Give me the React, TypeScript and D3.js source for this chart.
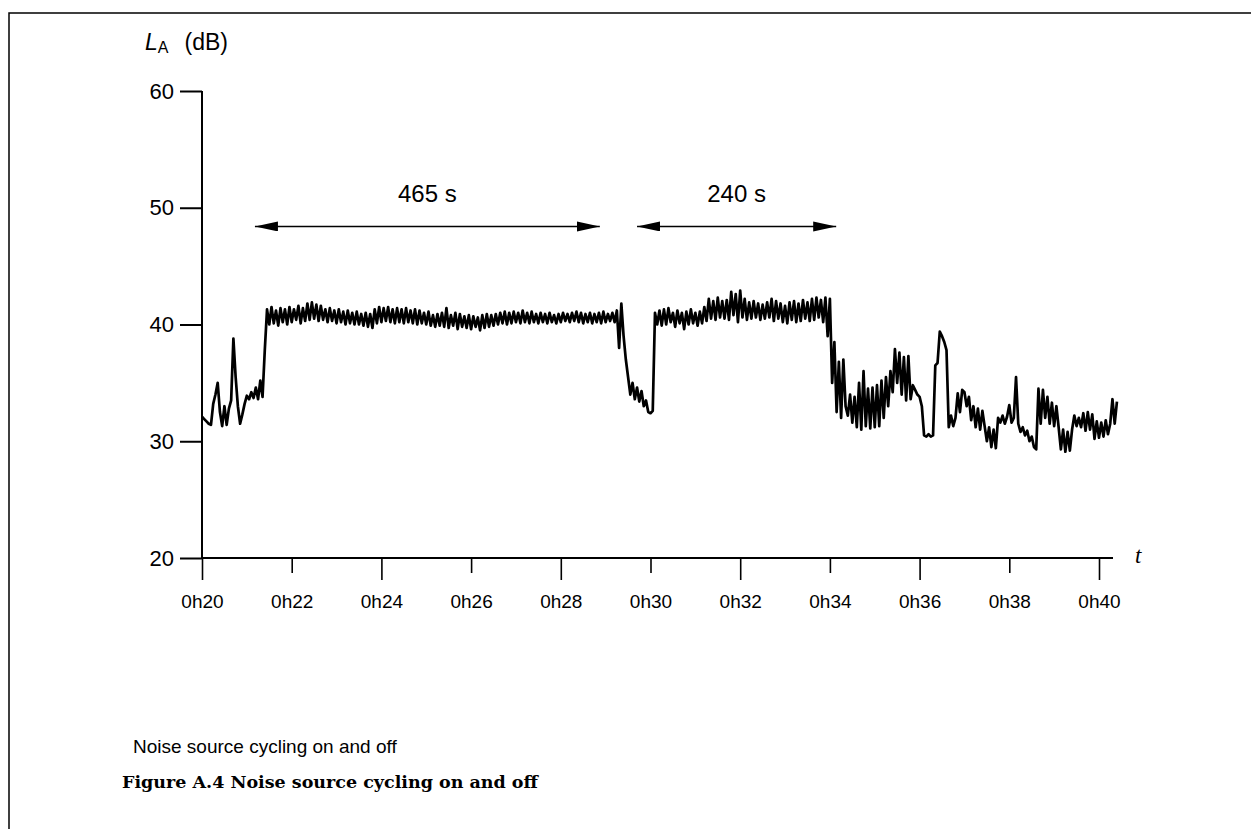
import React, { useEffect, useRef } from 'react';
import * as d3 from 'd3';

// sound level samples (dB), one every 3 s starting at 0h20
const T0 = 20;
const STEP = 0.05; // minutes

const startup = [
  32.1, 31.9, 31.7, 31.5, 31.4, 33.2, 34.0, 35.0, 32.5, 31.3,
  33.0, 31.4, 32.8, 33.5, 38.8, 35.5, 33.0, 31.5, 32.3, 33.2,
  33.9, 33.6, 34.2, 33.7, 34.6, 33.6, 35.2, 33.8, 37.8,
];

const firstOn = [
  41.3, 40.0, 41.5, 40.1, 41.2, 39.9, 41.4, 40.2, 41.3, 40.0,
  41.5, 40.2, 41.3, 40.4, 41.6, 40.1, 41.4, 40.3, 41.8, 40.4,
  41.9, 40.5, 41.7, 40.3, 41.6, 40.4, 41.3, 40.2, 41.4, 40.3,
  41.2, 40.1, 41.3, 40.2, 41.1, 40.0, 41.2, 40.1, 41.0, 40.0,
  41.1, 40.0, 40.9, 39.9, 41.0, 39.8, 40.9, 39.7, 41.3, 40.1,
  41.5, 40.2, 41.4, 40.3, 41.5, 40.2, 41.3, 40.1, 41.4, 40.2,
  41.3, 40.1, 41.4, 40.2, 41.2, 40.1, 41.3, 40.0, 41.2, 40.1,
  41.0, 40.0, 41.1, 39.9, 40.8, 39.8, 40.9, 39.9, 41.0, 39.8,
  41.4, 39.7, 40.8, 39.9, 41.0, 39.6, 40.9, 39.8, 40.7, 39.7,
  40.8, 39.6, 40.7, 39.8, 40.6, 39.5, 40.8, 39.7, 40.9, 39.8,
  40.8, 39.9, 40.9, 40.0, 41.0, 40.1, 41.1, 40.0, 41.0, 40.1,
  41.1, 40.2, 41.0, 40.1, 41.2, 40.2, 41.0, 40.1, 41.1, 40.2,
  40.9, 40.1, 41.0, 40.2, 40.9, 40.1, 41.0, 40.2, 40.8, 40.1,
  40.9, 40.2, 41.0, 40.3, 40.9, 40.2, 41.0, 40.3, 41.1, 40.2,
  41.0, 40.1, 40.9, 40.2, 41.0, 40.1, 40.9, 40.2, 41.0, 40.1,
  41.1, 40.2, 40.9, 40.3, 41.0, 40.2, 41.2,
];

const firstOff = [
  38.0, 41.8, 39.0, 37.0, 35.5, 34.0, 35.0, 33.6, 34.6, 33.4,
  34.3, 33.0, 33.5, 32.5, 32.4, 32.6,
];

const secondOn = [
  41.0,
  40.0, 41.2, 39.9, 41.3, 40.0, 41.4, 40.2, 41.0, 39.8, 41.2,
  40.1, 41.0, 39.6, 41.1, 40.0, 41.3, 40.1, 41.0, 39.9, 41.1,
  40.1, 41.5, 40.3, 42.2, 40.5, 42.0, 40.4, 42.3, 40.6, 42.0,
  40.5, 42.1, 40.4, 42.8, 40.8, 42.6, 40.2, 42.9, 40.6, 42.2,
  40.4, 41.9, 40.5, 42.0, 40.6, 41.8, 40.4, 41.7, 40.5, 41.9,
  40.6, 42.2, 40.3, 42.0, 40.5, 41.8, 40.2, 41.6, 40.1, 41.9,
  40.4, 42.0, 40.2, 41.8, 40.3, 42.1, 40.5, 41.9, 40.3, 42.2,
  40.4, 42.3, 40.6, 42.1, 40.2, 42.3, 39.0, 42.2,
];

const tail = [
  35.0, 38.5, 32.5, 36.8, 32.0, 37.0, 33.0, 32.2,
  34.0, 31.6, 33.8, 31.2, 35.0, 31.0, 36.0, 31.3, 34.5, 31.1, 34.6, 31.2, 34.8, 31.3, 35.2, 32.0,
  35.5, 33.0, 36.0, 34.2, 37.9, 35.0, 37.6,
  34.0, 37.2, 33.5, 37.3, 33.6, 34.8,
  34.4, 34.0, 33.8, 33.0,
  30.5, 30.4, 30.6, 30.4, 30.5,
  36.5, 36.7, 39.4, 39.0, 38.5, 37.8,
  31.2, 32.2, 31.3, 32.0,
  34.1, 32.5, 34.4, 34.2,
  33.0, 33.8, 31.8, 33.0, 31.2, 32.8, 31.0, 32.6, 31.3,
  30.0, 31.2, 29.5, 31.0, 29.4,
  32.0, 31.6, 32.2, 31.5, 32.1, 33.1, 31.6, 32.0,
  35.5, 31.5, 30.8, 31.2,
  30.5, 30.9, 30.0, 30.4, 29.5, 29.3,
  34.5, 31.5, 34.4, 32.0, 33.8,
  31.5, 33.3, 31.3, 33.0, 31.2,
  29.3, 31.0, 29.1, 30.8, 29.2, 31.0,
  32.2, 31.3, 32.0, 31.2, 32.4,
  30.9, 32.5, 31.0, 32.3,
  30.2, 31.7, 30.3, 31.6, 30.4, 31.8, 30.6, 31.5,
  33.6, 31.5, 33.4,
];

const yTicks = [20, 30, 40, 50, 60];
const xTicks = [20, 22, 24, 26, 28, 30, 32, 34, 36, 38, 40];
const xTickLabels = ['0h20', '0h22', '0h24', '0h26', '0h28', '0h30', '0h32', '0h34', '0h36', '0h38', '0h40'];

// duration annotations (minutes) at a fixed level
const spanStarts = [21.18, 29.7];
const spanEnds = [28.87, 34.14];
const spanLabels = ['465 s', '240 s'];
const spanLevel = 48.4;

const W = 1251;
const H = 829;
const sans = "'Liberation Sans', Arial, Helvetica, sans-serif";

export default function App() {
  const ref = useRef<SVGSVGElement>(null);

  useEffect(() => {
    if (!ref.current) return;
    const svg = d3.select(ref.current);
    svg.selectAll('*').remove();

    const x = d3.scaleLinear().domain([20, 40]).range([202, 1099]);
    const y = d3.scaleLinear().domain([20, 60]).range([558, 91]);

    // frame
    svg.append('path')
      .attr('d', `M9,${H} V13 H${W}`)
      .attr('fill', 'none')
      .attr('stroke', '#000')
      .attr('stroke-width', 1.5);

    const defs = svg.append('defs');
    defs.append('marker')
      .attr('id', 'head')
      .attr('markerUnits', 'userSpaceOnUse')
      .attr('markerWidth', 26)
      .attr('markerHeight', 12)
      .attr('refX', 23)
      .attr('refY', 5)
      .attr('orient', 'auto-start-reverse')
      .append('path')
      .attr('d', 'M0,0 L23,5 L0,10 Z')
      .attr('fill', '#000');

    // y axis
    const yAxis = svg.append('g')
      .attr('transform', `translate(${x(20)},0)`)
      .call(d3.axisLeft(y).tickValues(yTicks).tickSize(22).tickPadding(6).tickSizeOuter(0));
    yAxis.select('.domain').remove();
    yAxis.attr('font-family', sans).attr('font-size', 22);
    yAxis.selectAll('line').attr('stroke', '#000').attr('stroke-width', 2);
    yAxis.selectAll('text').attr('fill', '#000');

    svg.append('line')
      .attr('x1', x(20)).attr('x2', x(20))
      .attr('y1', y(60)).attr('y2', y(20))
      .attr('stroke', '#000').attr('stroke-width', 2);

    // x axis
    const xAxis = svg.append('g')
      .attr('transform', `translate(0,${y(20)})`)
      .call(d3.axisBottom(x).tickValues(xTicks).tickFormat((_, i) => xTickLabels[i]).tickSizeOuter(0));
    xAxis.select('.domain').remove();
    xAxis.attr('font-family', sans).attr('font-size', 19);
    xAxis.selectAll('line')
      .attr('stroke', '#000')
      .attr('stroke-width', 1.6)
      .attr('y2', (_, i) => (i % 2 === 0 ? 22 : 15));
    xAxis.selectAll('text').attr('fill', '#000').attr('y', 37);

    svg.append('line')
      .attr('x1', x(20)).attr('x2', x(40) + 14)
      .attr('y1', y(20)).attr('y2', y(20))
      .attr('stroke', '#000').attr('stroke-width', 2);

    // axis titles
    const yt = svg.append('text')
      .attr('x', 145).attr('y', 50)
      .attr('font-family', sans).attr('font-size', 23).attr('fill', '#000');
    yt.append('tspan').attr('font-style', 'italic').text('L');
    yt.append('tspan').attr('font-size', 16).attr('dy', 3).text('A');
    yt.append('tspan').attr('dy', -3).attr('dx', 16).text('(dB)');

    svg.append('text')
      .attr('x', x(40) + 36).attr('y', y(20) + 5)
      .attr('font-family', "'Liberation Serif', 'Times New Roman', serif")
      .attr('font-style', 'italic')
      .attr('font-size', 23)
      .attr('fill', '#000')
      .text('t');

    // trace
    const levels = [...startup, ...firstOn, ...firstOff, ...secondOn, ...tail];
    const points: [number, number][] = levels.map((v, i) => [T0 + i * STEP, v]);
    const line = d3.line<[number, number]>().x(d => x(d[0])).y(d => y(d[1]));
    svg.append('path')
      .datum(points)
      .attr('d', line)
      .attr('fill', 'none')
      .attr('stroke', '#000')
      .attr('stroke-width', 2.7)
      .attr('stroke-linejoin', 'round');

    // duration arrows
    spanLabels.forEach((label, i) => {
      const x1 = x(spanStarts[i]);
      const x2 = x(spanEnds[i]);
      const yy = y(spanLevel);
      svg.append('line')
        .attr('x1', x1).attr('x2', x2)
        .attr('y1', yy).attr('y2', yy)
        .attr('stroke', '#000').attr('stroke-width', 1.5)
        .attr('marker-start', 'url(#head)')
        .attr('marker-end', 'url(#head)');
      svg.append('text')
        .attr('x', (x1 + x2) / 2).attr('y', yy - 24)
        .attr('text-anchor', 'middle')
        .attr('font-family', sans).attr('font-size', 24).attr('fill', '#000')
        .text(label);
    });

    // captions
    svg.append('text')
      .attr('x', 133).attr('y', 753)
      .attr('font-family', sans).attr('font-size', 19).attr('fill', '#000')
      .text('Noise source cycling on and off');
    svg.append('text')
      .attr('x', 122).attr('y', 788)
      .attr('font-family', "'DejaVu Serif', 'Liberation Serif', serif")
      .attr('font-weight', 'bold')
      .attr('font-size', 17.5)
      .attr('fill', '#000')
      .text('Figure A.4 Noise source cycling on and off');
  }, []);

  return (
    <div style={{ position: 'absolute', left: 0, top: 0 }}>
      <svg ref={ref} width={W} height={H} style={{ display: 'block', background: '#fff' }} />
    </div>
  );
}
